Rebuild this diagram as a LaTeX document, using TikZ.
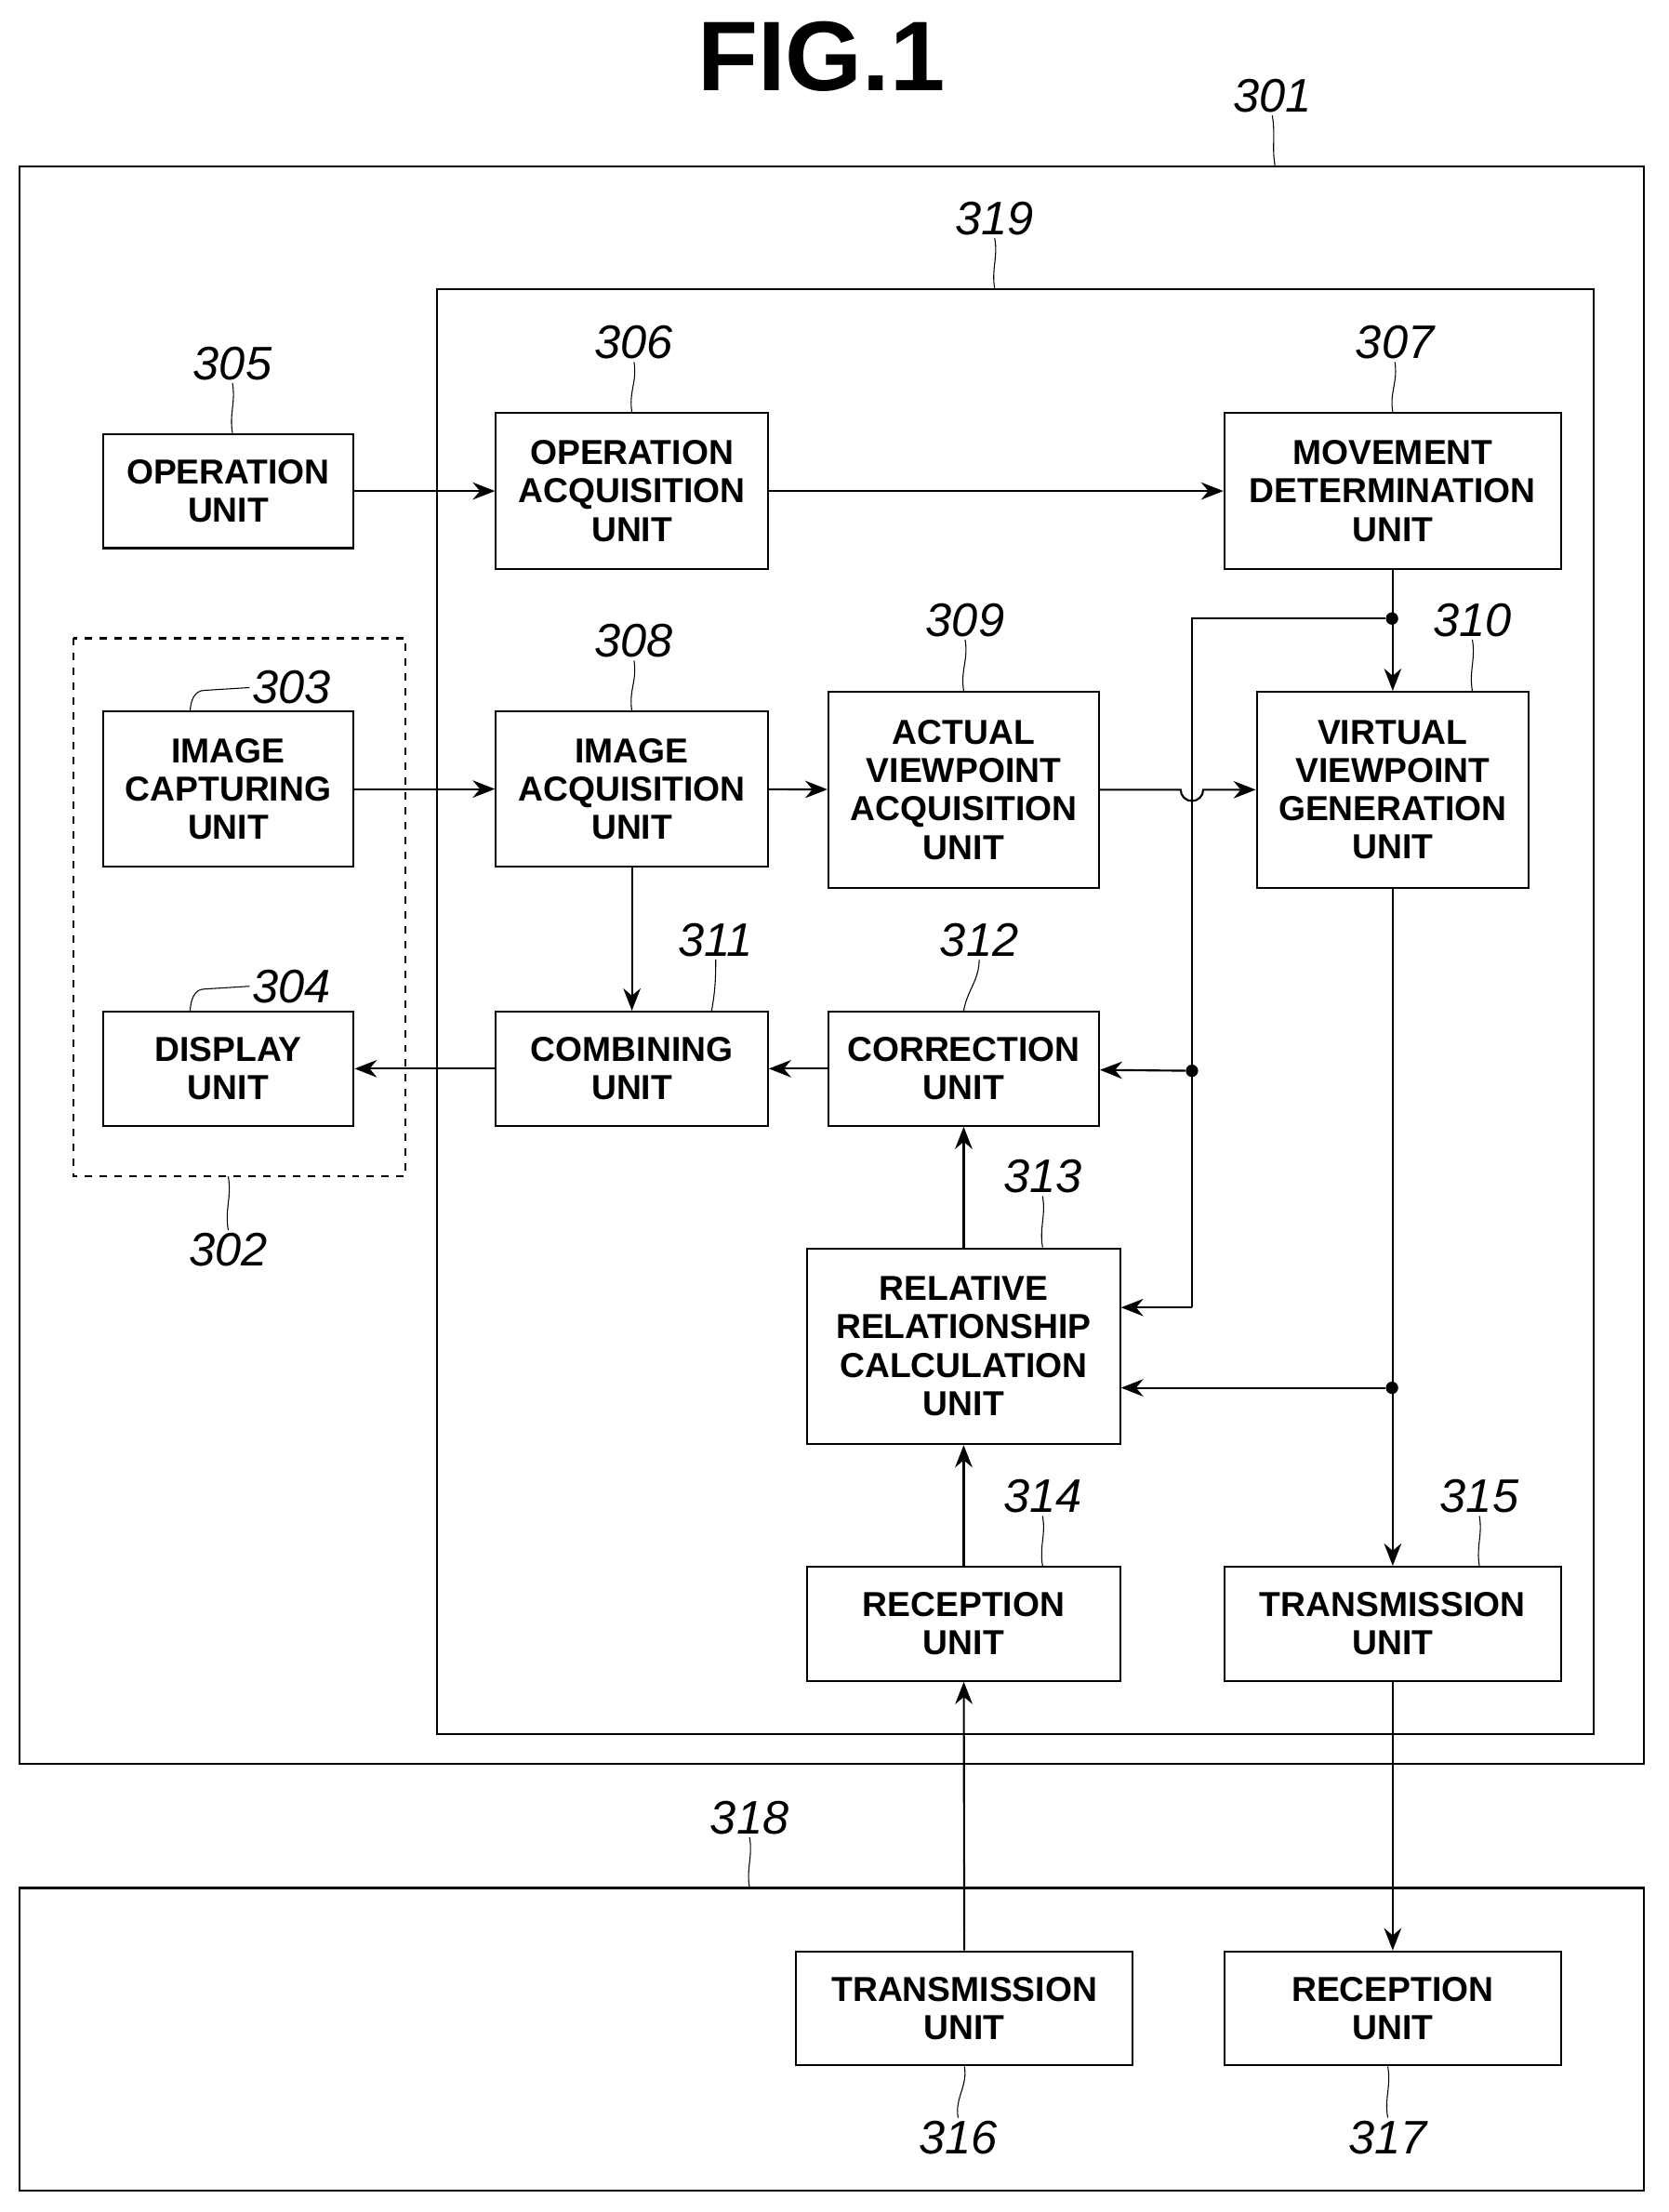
\documentclass[tikz,border=0pt]{standalone}
\usepackage{fontspec}
\setmainfont{Liberation Sans}
\usetikzlibrary{arrows.meta,positioning}
\tikzset{
        unit/.style={draw, thick, align=center, inner sep=0pt, font=\fontsize{14}{15.5}\selectfont\bfseries},
        num/.style={font=\fontsize{19}{20}\selectfont\itshape, inner sep=1pt},
        line/.style={thick, -{Stealth[length=9pt,width=7pt]}},
        lead/.style={thin},
        dot/.style={circle, fill, inner sep=0pt, minimum size=5pt}
    }
\begin{document}
\begin{tikzpicture}[x=0.02cm, y=-0.02cm]
    \useasboundingbox (0,0) rectangle (1184,1570);
    \node[font=\fontsize{40}{40}\selectfont\bfseries] (title) at (583,40) {FIG.1};

    % frames
    \draw[thick] (14,118) rectangle (1167,1252);
    \draw[thick] (310,205) rectangle (1131,1231);
    \draw[thick, dashed] (52,453) rectangle (288,835);
    \draw[thick] (14,1340) rectangle (1167,1555);

    % units
    \node[unit, minimum width=3.56cm, minimum height=1.62cm] (opu) at (162,348.5) {OPERATION\\UNIT};
    \node[unit, minimum width=3.86cm, minimum height=2.22cm] (opacq) at (448.5,348.5) {OPERATION\\ACQUISITION\\UNIT};
    \node[unit, minimum width=4.78cm, minimum height=2.22cm] (move) at (988.5,348.5) {MOVEMENT\\DETERMINATION\\UNIT};
    \node[unit, minimum width=3.56cm, minimum height=2.2cm] (cap) at (162,560) {IMAGE\\CAPTURING\\UNIT};
    \node[unit, minimum width=3.86cm, minimum height=2.2cm] (imacq) at (448.5,560) {IMAGE\\ACQUISITION\\UNIT};
    \node[unit, minimum width=3.84cm, minimum height=2.78cm] (actual) at (684,560.5) {ACTUAL\\VIEWPOINT\\ACQUISITION\\UNIT};
    \node[unit, minimum width=3.86cm, minimum height=2.78cm] (virt) at (988.5,560.5) {VIRTUAL\\VIEWPOINT\\GENERATION\\UNIT};
    \node[unit, minimum width=3.56cm, minimum height=1.62cm] (disp) at (162,758.5) {DISPLAY\\UNIT};
    \node[unit, minimum width=3.86cm, minimum height=1.62cm] (comb) at (448.5,758.5) {COMBINING\\UNIT};
    \node[unit, minimum width=3.84cm, minimum height=1.62cm] (corr) at (684,758.5) {CORRECTION\\UNIT};
    \node[unit, minimum width=4.44cm, minimum height=2.78cm] (rel) at (684,955.5) {RELATIVE\\RELATIONSHIP\\CALCULATION\\UNIT};
    \node[unit, minimum width=4.44cm, minimum height=1.62cm] (recv) at (684,1152.5) {RECEPTION\\UNIT};
    \node[unit, minimum width=4.78cm, minimum height=1.62cm] (trans) at (988.5,1152.5) {TRANSMISSION\\UNIT};
    \node[unit, minimum width=4.78cm, minimum height=1.62cm] (trans2) at (684.5,1425.5) {TRANSMISSION\\UNIT};
    \node[unit, minimum width=4.78cm, minimum height=1.62cm] (recv2) at (988.5,1425.5) {RECEPTION\\UNIT};

    % branch points
    \coordinate (c439) at (846,439);
    \coordinate (c928) at (846,928);
    \node[dot] (d1) at (988,439) {};
    \node[dot] (d2) at (846,760) {};
    \node[dot] (d3) at (988,985) {};

    % connections
    \draw[line] (opu) -- (opacq);
    \draw[line] (opacq) -- (move);
    \draw[line] (move) -- (virt);
    \draw[thick] (d1) -- (c439) -- (c928);
    \draw[line] (d2) -- (corr);
    \draw[line] (c928) -- (rel.east |- c928);
    \draw[line] (cap) -- (imacq);
    \draw[line] (imacq) -- (actual);
    \draw[line] (actual.east) -- (838,560.5) arc (180:0:8) -- (virt.west);
    \draw[line] (imacq) -- (comb);
    \draw[line] (comb) -- (disp);
    \draw[line] (corr) -- (comb);
    \draw[line] (rel) -- (corr);
    \draw[line] (virt) -- (trans);
    \draw[line] (d3) -- (rel.east |- d3);
    \draw[line] (recv) -- (rel);
    \draw[line] (trans2) -- (recv);
    \draw[line] (trans) -- (recv2);

    % reference numerals
    \node[num] (l301) at (903,68) {301};
    \node[num] (l319) at (706,155) {319};
    \node[num] (l305) at (165,258) {305};
    \node[num] (l306) at (450,243) {306};
    \node[num] (l307) at (990,243) {307};
    \node[num] (l308) at (450,455) {308};
    \node[num] (l309) at (685,440) {309};
    \node[num] (l310) at (1045,440) {310};
    \node[num] (l303) at (207,488) {303};
    \node[num] (l304) at (207,700) {304};
    \node[num] (l311) at (508,667) {311};
    \node[num] (l312) at (695,667) {312};
    \node[num] (l313) at (740,835) {313};
    \node[num] (l314) at (740,1062) {314};
    \node[num] (l315) at (1050,1062) {315};
    \node[num] (l302) at (162,887) {302};
    \node[num] (l318) at (532,1290) {318};
    \node[num] (l316) at (680,1517) {316};
    \node[num] (l317) at (985,1517) {317};

    % leaders
    \draw[lead] (l301.south) to[out=-80,in=100] (905,118);
    \draw[lead] (l319.south) to[out=-80,in=100] (706,205);
    \draw[lead] (l305.south) to[out=-80,in=100] (opu.north -| l305);
    \draw[lead] (l306.south) to[out=-80,in=100] (opacq.north);
    \draw[lead] (l307.south) to[out=-80,in=100] (move.north);
    \draw[lead] (l308.south) to[out=-80,in=100] (imacq.north);
    \draw[lead] (l309.south) to[out=-80,in=100] (actual.north);
    \draw[lead] (l310.south) to[out=-80,in=100] (virt.north -| l310);
    \draw[lead] (l303.west) -- (145,490) to[out=180,in=90] (135,505);
    \draw[lead] (l304.west) -- (145,702) to[out=180,in=90] (135,718);
    \draw[lead] (l311.south) to[out=-90,in=80] (505,718);
    \draw[lead] (l312.south) to[out=-90,in=80] (corr.north);
    \draw[lead] (l313.south) to[out=-80,in=100] (rel.north -| l313);
    \draw[lead] (l314.south) to[out=-80,in=100] (recv.north -| l314);
    \draw[lead] (l315.south) to[out=-80,in=100] (trans.north -| l315);
    \draw[lead] (l302.north) to[out=100,in=-80] (162,835);
    \draw[lead] (l318.south) to[out=-80,in=100] (532,1340);
    \draw[lead] (l316.north) to[out=100,in=-80] (trans2.south);
    \draw[lead] (l317.north) to[out=100,in=-80] (recv2.south -| l317);
\end{tikzpicture}
\end{document}
